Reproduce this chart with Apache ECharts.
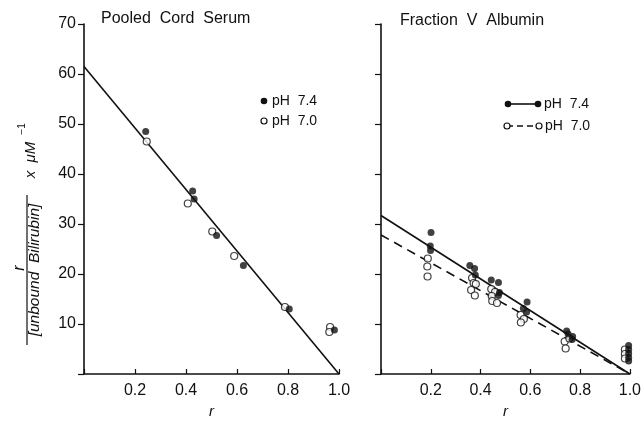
<!DOCTYPE html>
<html><head><meta charset="utf-8">
<script src="https://cdn.jsdelivr.net/npm/echarts@6/dist/echarts.min.js"></script>
<style>html,body{margin:0;padding:0;background:#fff}#c{width:644px;height:424px}</style>
</head><body><div id="c"></div>
<script>
// ---- data ----
const xTicks = [0.2, 0.4, 0.6, 0.8, 1.0];
const yTicks = [10, 20, 30, 40, 50, 60, 70];
// Left panel: Pooled Cord Serum  [r, r/[unbound bilirubin]]
const cordPH74 = [[0.242,48.5],[0.426,36.6],[0.432,35.0],[0.52,27.7],[0.625,21.7],[0.805,13.0],[0.982,8.8]];
const cordPH70 = [[0.246,46.5],[0.407,34.1],[0.503,28.5],[0.589,23.6],[0.788,13.4],[0.965,9.4],[0.962,8.4]];
const cordFit = [[0,61.5],[1.0,0]];
// Right panel: Fraction V Albumin
const albPH74 = [[0.201,28.3],[0.198,25.6],[0.199,24.7],
  [0.357,21.7],[0.376,21.1],[0.379,19.8],
  [0.443,18.8],[0.472,18.3],[0.476,16.3],[0.472,15.7],
  [0.587,14.4],[0.572,13.1],[0.585,12.4],
  [0.746,8.6],[0.752,8.0],[0.77,7.5],[0.768,6.9],
  [0.995,5.7],[0.995,4.9],[0.995,4.1],[0.995,3.3],[0.995,2.6]];
const albPH70 = [[0.188,23.1],[0.186,21.5],[0.187,19.5],
  [0.366,19.2],[0.372,18.2],[0.381,18.0],[0.362,16.8],[0.377,15.7],
  [0.443,17.0],[0.458,16.4],[0.445,15.6],[0.447,14.6],[0.466,14.2],
  [0.561,11.8],[0.574,11.0],[0.562,10.3],
  [0.738,6.5],[0.757,7.1],[0.742,5.1],
  [0.98,4.9],[0.98,4.0],[0.98,3.1]];
const albFit74 = [[0,31.7],[1.0,0]];
const albFit70 = [[0,27.8],[1.0,0]];
const legendLabels = ['pH  7.4', 'pH  7.0'];

const FONT = 'Liberation Sans';
const black = '#111';

function xAxis(gi){
  return {type:'value', gridIndex:gi, min:0, max:1.0, interval:0.2,
    name:'r', nameLocation:'middle', nameGap:30,
    nameTextStyle:{fontFamily:FONT, fontSize:15, fontStyle:'italic', color:black},
    axisLine:{lineStyle:{color:black,width:1.6}},
    axisTick:{inside:true,length:5,lineStyle:{color:black,width:1.2}},
    axisLabel:{margin:9, fontFamily:FONT, fontSize:16, color:black,
      formatter:v => xTicks.some(t=>Math.abs(t-v)<1e-6) ? v.toFixed(1) : ''},
    splitLine:{show:false}};
}
function yAxis(gi, labels){
  return {type:'value', gridIndex:gi, min:0, max:70, interval:10,
    axisLine:{show:true,lineStyle:{color:black,width:1.6}},
    axisTick:{inside:false,length:6,lineStyle:{color:black,width:1.2}},
    axisLabel:{show:labels, margin:8, fontFamily:FONT, fontSize:16, color:black,
      formatter:v => yTicks.indexOf(v)>=0 ? String(v) : ''},
    splitLine:{show:false}};
}
const filled = {color:black};
const open = {color:'#fff', borderColor:black, borderWidth:1.2};

const chart = echarts.init(document.getElementById('c'), null, {renderer:'canvas'});
chart.setOption({
  backgroundColor:'#fff',
  animation:false,
  grid:[{left:84,right:305,top:24,bottom:36},{left:381,right:11,top:24,bottom:35}],
  xAxis:[xAxis(0), xAxis(1)],
  yAxis:[yAxis(0,true), yAxis(1,false)],
  series:[
    {type:'line', xAxisIndex:0, yAxisIndex:0, data:cordFit, symbol:'none', lineStyle:{color:black,width:1.6}, z:2},
    {type:'scatter', xAxisIndex:0, yAxisIndex:0, data:cordPH74, symbol:'circle', symbolSize:7, itemStyle:filled, z:4},
    {type:'scatter', xAxisIndex:0, yAxisIndex:0, data:cordPH70, symbol:'circle', symbolSize:7, itemStyle:open, z:3},
    {type:'line', xAxisIndex:1, yAxisIndex:1, data:albFit74, symbol:'none', lineStyle:{color:black,width:1.6}, z:2},
    {type:'line', xAxisIndex:1, yAxisIndex:1, data:albFit70, symbol:'none', lineStyle:{color:black,width:1.6,type:[9,6]}, z:2},
    {type:'scatter', xAxisIndex:1, yAxisIndex:1, data:albPH74, symbol:'circle', symbolSize:7, itemStyle:filled, z:4},
    {type:'scatter', xAxisIndex:1, yAxisIndex:1, data:albPH70, symbol:'circle', symbolSize:7, itemStyle:open, z:3}
  ],
  graphic:[
    {type:'text', x:101, y:19, style:{text:'Pooled  Cord  Serum', fontFamily:FONT, fontSize:16, fill:black, textVerticalAlign:'middle'}},
    {type:'text', x:400, y:21, style:{text:'Fraction  V  Albumin', fontFamily:FONT, fontSize:16, fill:black, textVerticalAlign:'middle'}},
    // left legend
    {type:'circle', shape:{cx:264,cy:101,r:3.3}, style:{fill:black}},
    {type:'text', x:272, y:101, style:{text:legendLabels[0], fontFamily:FONT, fontSize:14, fill:black, textVerticalAlign:'middle'}},
    {type:'circle', shape:{cx:264,cy:121,r:3}, style:{fill:'#fff', stroke:black, lineWidth:1.2}},
    {type:'text', x:272, y:121, style:{text:legendLabels[1], fontFamily:FONT, fontSize:14, fill:black, textVerticalAlign:'middle'}},
    // right legend
    {type:'line', shape:{x1:508,y1:104,x2:538,y2:104}, style:{stroke:black, lineWidth:1.6}},
    {type:'circle', shape:{cx:508,cy:104,r:3.3}, style:{fill:black}},
    {type:'circle', shape:{cx:538,cy:104,r:3.3}, style:{fill:black}},
    {type:'text', x:544, y:104, style:{text:legendLabels[0], fontFamily:FONT, fontSize:14, fill:black, textVerticalAlign:'middle'}},
    {type:'line', shape:{x1:507,y1:126,x2:539,y2:126}, style:{stroke:black, lineWidth:1.6, lineDash:[6,4]}},
    {type:'circle', shape:{cx:507,cy:126,r:3}, style:{fill:'#fff', stroke:black, lineWidth:1.2}},
    {type:'circle', shape:{cx:539,cy:126,r:3}, style:{fill:'#fff', stroke:black, lineWidth:1.2}},
    {type:'text', x:545, y:126, style:{text:legendLabels[1], fontFamily:FONT, fontSize:14, fill:black, textVerticalAlign:'middle'}},
    // y-axis title (rotated fraction)
    {type:'text', x:20, y:268, rotation:Math.PI/2, style:{text:'r', fontFamily:FONT, fontSize:16, fontStyle:'italic', fill:black, textAlign:'center', textVerticalAlign:'middle'}},
    {type:'line', shape:{x1:27,y1:195,x2:27,y2:345}, style:{stroke:black, lineWidth:1.2}},
    {type:'text', x:35, y:270, rotation:Math.PI/2, style:{text:'[unbound  Bilirubin]', fontFamily:FONT, fontSize:15.5, fontStyle:'italic', fill:black, textAlign:'center', textVerticalAlign:'middle'}},
    {type:'text', x:31, y:160, rotation:Math.PI/2, style:{text:'x  μM', fontFamily:FONT, fontSize:15, fontStyle:'italic', fill:black, textAlign:'center', textVerticalAlign:'middle'}},
    {type:'text', x:22, y:129, rotation:Math.PI/2, style:{text:'−1', fontFamily:FONT, fontSize:10, fill:black, textAlign:'center', textVerticalAlign:'middle'}}
  ]
});
</script></body></html>
